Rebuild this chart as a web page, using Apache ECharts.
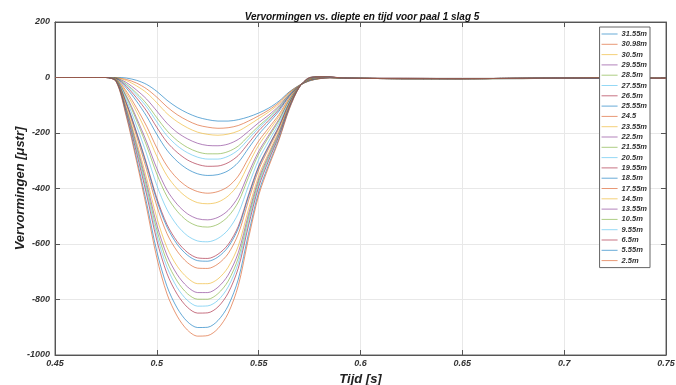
<!DOCTYPE html>
<html><head><meta charset="utf-8">
<script src="https://cdn.jsdelivr.net/npm/echarts@6/dist/echarts.min.js"></script>
<style>html,body{margin:0;padding:0;background:#fff}#c{width:676px;height:385px}</style>
</head><body><div id="c"></div>
<script>
const time = [0.45,0.475,0.48,0.485,0.49,0.495,0.5,0.505,0.51,0.515,0.52,0.525,0.53,0.535,0.54,0.545,0.55,0.555,0.56,0.565,0.57,0.575,0.58,0.585,0.59,0.6,0.62,0.65,0.68,0.7,0.72,0.75];
const names = ["31.55m","30.98m","30.5m","29.55m","28.5m","27.55m","26.5m","25.55m","24.5","23.55m","22.5m","21.55m","20.5m","19.55m","18.5m","17.55m","14.5m","13.55m","10.5m","9.55m","6.5m","5.55m","2.5m"];
const s00 = [0,0,0,-2,-10,-25,-50,-82,-108,-128,-143,-152,-157,-157,-152,-142,-128,-110,-85,-52,-28,-12,-4,-1,-2,-3,-4,-5,-4,-2,-3,-3];
const s01 = [0,0,-1,-7,-20,-41,-71,-106,-134,-155,-171,-179,-183,-181,-173,-157,-138,-117,-90,-54,-28,-12,-4,-1,-2,-3,-4,-4,-4,-2,-3,-3];
const s02 = [0,0,-1,-11,-30,-55,-91,-130,-159,-181,-197,-205,-208,-204,-193,-172,-148,-124,-95,-56,-29,-11,-4,-1,-2,-3,-4,-5,-3,-2,-2,-3];
const s03 = [0,0,-2,-18,-45,-78,-121,-165,-198,-221,-237,-245,-246,-240,-223,-194,-163,-135,-102,-60,-29,-11,-3,-1,-2,-3,-4,-4,-3,-2,-3,-3];
const s04 = [0,0,-2,-24,-56,-95,-145,-192,-227,-252,-268,-275,-275,-267,-247,-211,-175,-143,-107,-62,-29,-10,-3,0,-2,-3,-4,-4,-4,-2,-2,-3];
const s05 = [0,0,-3,-27,-63,-106,-160,-210,-246,-271,-287,-294,-294,-284,-261,-222,-182,-148,-111,-64,-29,-10,-3,0,-2,-3,-3,-4,-3,-2,-3,-3];
const s06 = [0,0,-3,-32,-73,-121,-180,-233,-270,-297,-313,-320,-319,-307,-281,-237,-192,-155,-115,-66,-30,-9,-3,0,-1,-3,-4,-4,-3,-2,-2,-2];
const s07 = [0,0,-4,-38,-85,-140,-205,-262,-302,-330,-347,-353,-350,-336,-306,-255,-205,-164,-121,-68,-30,-9,-2,0,-2,-3,-4,-4,-3,-2,-3,-3];
const s08 = [0,0,-5,-49,-109,-176,-254,-319,-364,-394,-411,-417,-411,-393,-355,-291,-229,-181,-133,-73,-30,-8,-2,0,-1,-3,-4,-4,-3,-2,-2,-3];
const s09 = [0,0,-6,-56,-123,-199,-284,-354,-401,-433,-451,-455,-449,-427,-385,-313,-244,-192,-140,-77,-31,-7,-1,0,-2,-3,-3,-4,-3,-2,-3,-3];
const s10 = [0,0,-7,-66,-145,-232,-328,-406,-457,-491,-509,-513,-504,-479,-430,-345,-266,-207,-150,-81,-31,-6,-1,0,-1,-3,-4,-4,-3,-2,-2,-3];
const s11 = [0,0,-7,-71,-154,-246,-348,-429,-482,-517,-535,-539,-529,-501,-449,-360,-276,-214,-155,-83,-32,-6,0,1,-1,-3,-4,-4,-3,-2,-3,-3];
const s12 = [0,0,-8,-80,-174,-276,-389,-476,-533,-570,-589,-592,-580,-549,-490,-390,-296,-229,-164,-88,-32,-5,0,1,-1,-3,-4,-4,-3,-2,-2,-3];
const s13 = [0,0,-10,-91,-196,-311,-435,-530,-591,-630,-650,-652,-637,-602,-536,-423,-319,-245,-175,-92,-33,-4,1,1,-1,-3,-3,-4,-3,-2,-3,-3];
const s14 = [0,0,-10,-92,-200,-317,-443,-539,-601,-640,-660,-662,-647,-611,-544,-429,-323,-248,-177,-93,-33,-4,1,1,-1,-3,-4,-4,-3,-2,-2,-3];
const s15 = [0,0,-10,-97,-210,-332,-463,-563,-626,-667,-687,-688,-672,-635,-564,-444,-333,-255,-182,-95,-33,-4,1,1,-1,-3,-4,-4,-3,-2,-3,-3];
const s16 = [0,0,-11,-107,-230,-363,-506,-613,-680,-722,-743,-743,-726,-684,-607,-475,-354,-270,-191,-100,-33,-3,1,1,-1,-3,-4,-4,-3,-2,-2,-3];
const s17 = [0,0,-12,-113,-242,-381,-531,-641,-710,-754,-775,-775,-756,-712,-631,-493,-366,-278,-197,-103,-34,-2,2,1,-1,-3,-3,-4,-3,-2,-3,-3];
const s18 = [0,0,-12,-117,-251,-395,-549,-663,-734,-779,-799,-799,-779,-734,-650,-506,-375,-285,-202,-104,-34,-2,2,1,-1,-3,-4,-4,-3,-2,-2,-3];
const s19 = [0,0,-13,-121,-260,-409,-568,-684,-757,-803,-824,-823,-803,-755,-668,-520,-384,-291,-206,-106,-34,-2,2,1,-1,-3,-4,-4,-3,-2,-3,-3];
const s20 = [0,0,-13,-126,-270,-423,-587,-707,-781,-828,-849,-848,-827,-777,-687,-534,-394,-298,-210,-108,-34,-1,2,2,-1,-3,-4,-4,-3,-2,-2,-3];
const s21 = [0,0,-14,-135,-289,-453,-627,-753,-831,-880,-901,-900,-876,-823,-727,-563,-413,-312,-220,-113,-35,0,3,2,-1,-3,-4,-4,-3,-2,-3,-3];
const s22 = [0,0,-15,-140,-300,-470,-650,-780,-860,-910,-932,-930,-905,-850,-750,-580,-425,-320,-225,-115,-35,0,3,2,-1,-3,-4,-4,-3,-2,-2,-3];
const values = [s00,s01,s02,s03,s04,s05,s06,s07,s08,s09,s10,s11,s12,s13,s14,s15,s16,s17,s18,s19,s20,s21,s22];
const palette = ['#0072BD','#D95319','#EDB120','#7E2F8E','#77AC30','#4DBEEE','#A2142F'];
const yTicks = [-1000,-800,-600,-400,-200,0,200];
const xTicks = [0.45,0.5,0.55,0.6,0.65,0.7,0.75];

const lblFont = {fontFamily:'Liberation Sans, Arial, sans-serif', fontStyle:'italic', fontWeight:'bold', color:'#333', fontSize:9};
const chart = echarts.init(document.getElementById('c'), null, {renderer:'canvas'});
chart.setOption({
  animation:false,
  backgroundColor:'#fff',
  color: palette,
  title:{text:'Vervormingen vs. diepte en tijd voor paal 1 slag 5', left:357, top:7, textAlign:'center',
    textStyle:{fontFamily:'Liberation Sans, Arial, sans-serif', fontStyle:'italic', fontWeight:'bold', fontSize:10, color:'#111'}},
  grid:{left:55, right:10, top:22, bottom:30, show:true, borderColor:'#666', borderWidth:1, containLabel:false, outerBoundsMode:'none'},
  legend:{orient:'vertical', right:26, top:27, width:49, icon:'rect', itemWidth:16, itemHeight:1, itemGap:2.3,
    backgroundColor:'#fff', borderColor:'#666', borderWidth:1, padding:[3,3,3,2],
    textStyle:Object.assign({}, lblFont, {fontSize:7.5, padding:[0,0,0,-1]}),
    data: names},
  xAxis:[{type:'value', min:0.45, max:0.75, interval:0.05, position:'bottom',
    axisLine:{show:true, onZero:false, lineStyle:{color:'#555'}}, axisTick:{show:true, inside:true, length:5, lineStyle:{color:'#555'}},
    splitLine:{show:true, lineStyle:{color:'#e8e8e8'}},
    axisLabel:Object.assign({}, lblFont, {margin:4, formatter:v=>String(parseFloat(v.toFixed(2)))}),
    name:'Tijd [s]', nameLocation:'middle', nameGap:15,
    nameTextStyle:{fontFamily:'Liberation Sans, Arial, sans-serif', fontStyle:'italic', fontWeight:'bold', fontSize:13, color:'#222'}},
   {type:'value', min:0.45, max:0.75, interval:0.05, position:'top',
    axisLine:{show:true, onZero:false, lineStyle:{color:'#555'}}, axisTick:{show:true, inside:true, length:5, lineStyle:{color:'#555'}},
    splitLine:{show:false}, axisLabel:{show:false}}],
  yAxis:[{type:'value', min:-1000, max:200, interval:200, position:'left',
    axisLine:{show:true, onZero:false, lineStyle:{color:'#555'}}, axisTick:{show:true, inside:true, length:5, lineStyle:{color:'#555'}},
    splitLine:{show:true, lineStyle:{color:'#e8e8e8'}},
    axisLabel:Object.assign({}, lblFont, {margin:5, formatter:v=>String(v)}),
    name:'Vervormingen [\u03bcstr]', nameLocation:'middle', nameGap:28, nameMoveOverlap:false,
    nameTextStyle:{fontFamily:'Liberation Sans, Arial, sans-serif', fontStyle:'italic', fontWeight:'bold', fontSize:13, color:'#222'}},
   {type:'value', min:-1000, max:200, interval:200, position:'right',
    axisLine:{show:true, onZero:false, lineStyle:{color:'#555'}}, axisTick:{show:true, inside:true, length:5, lineStyle:{color:'#555'}},
    splitLine:{show:false}, axisLabel:{show:false}}],
  series: names.map((n,i)=>({
    name:n, type:'line', xAxisIndex:0, yAxisIndex:0, showSymbol:false, symbol:'none', smooth:0.3,
    lineStyle:{width:1, opacity:0.6, color:palette[i%7]},
    itemStyle:{color:palette[i%7], opacity:0.6},
    data: time.map((t,j)=>[t, values[i][j]])
  }))
});
</script></body></html>
